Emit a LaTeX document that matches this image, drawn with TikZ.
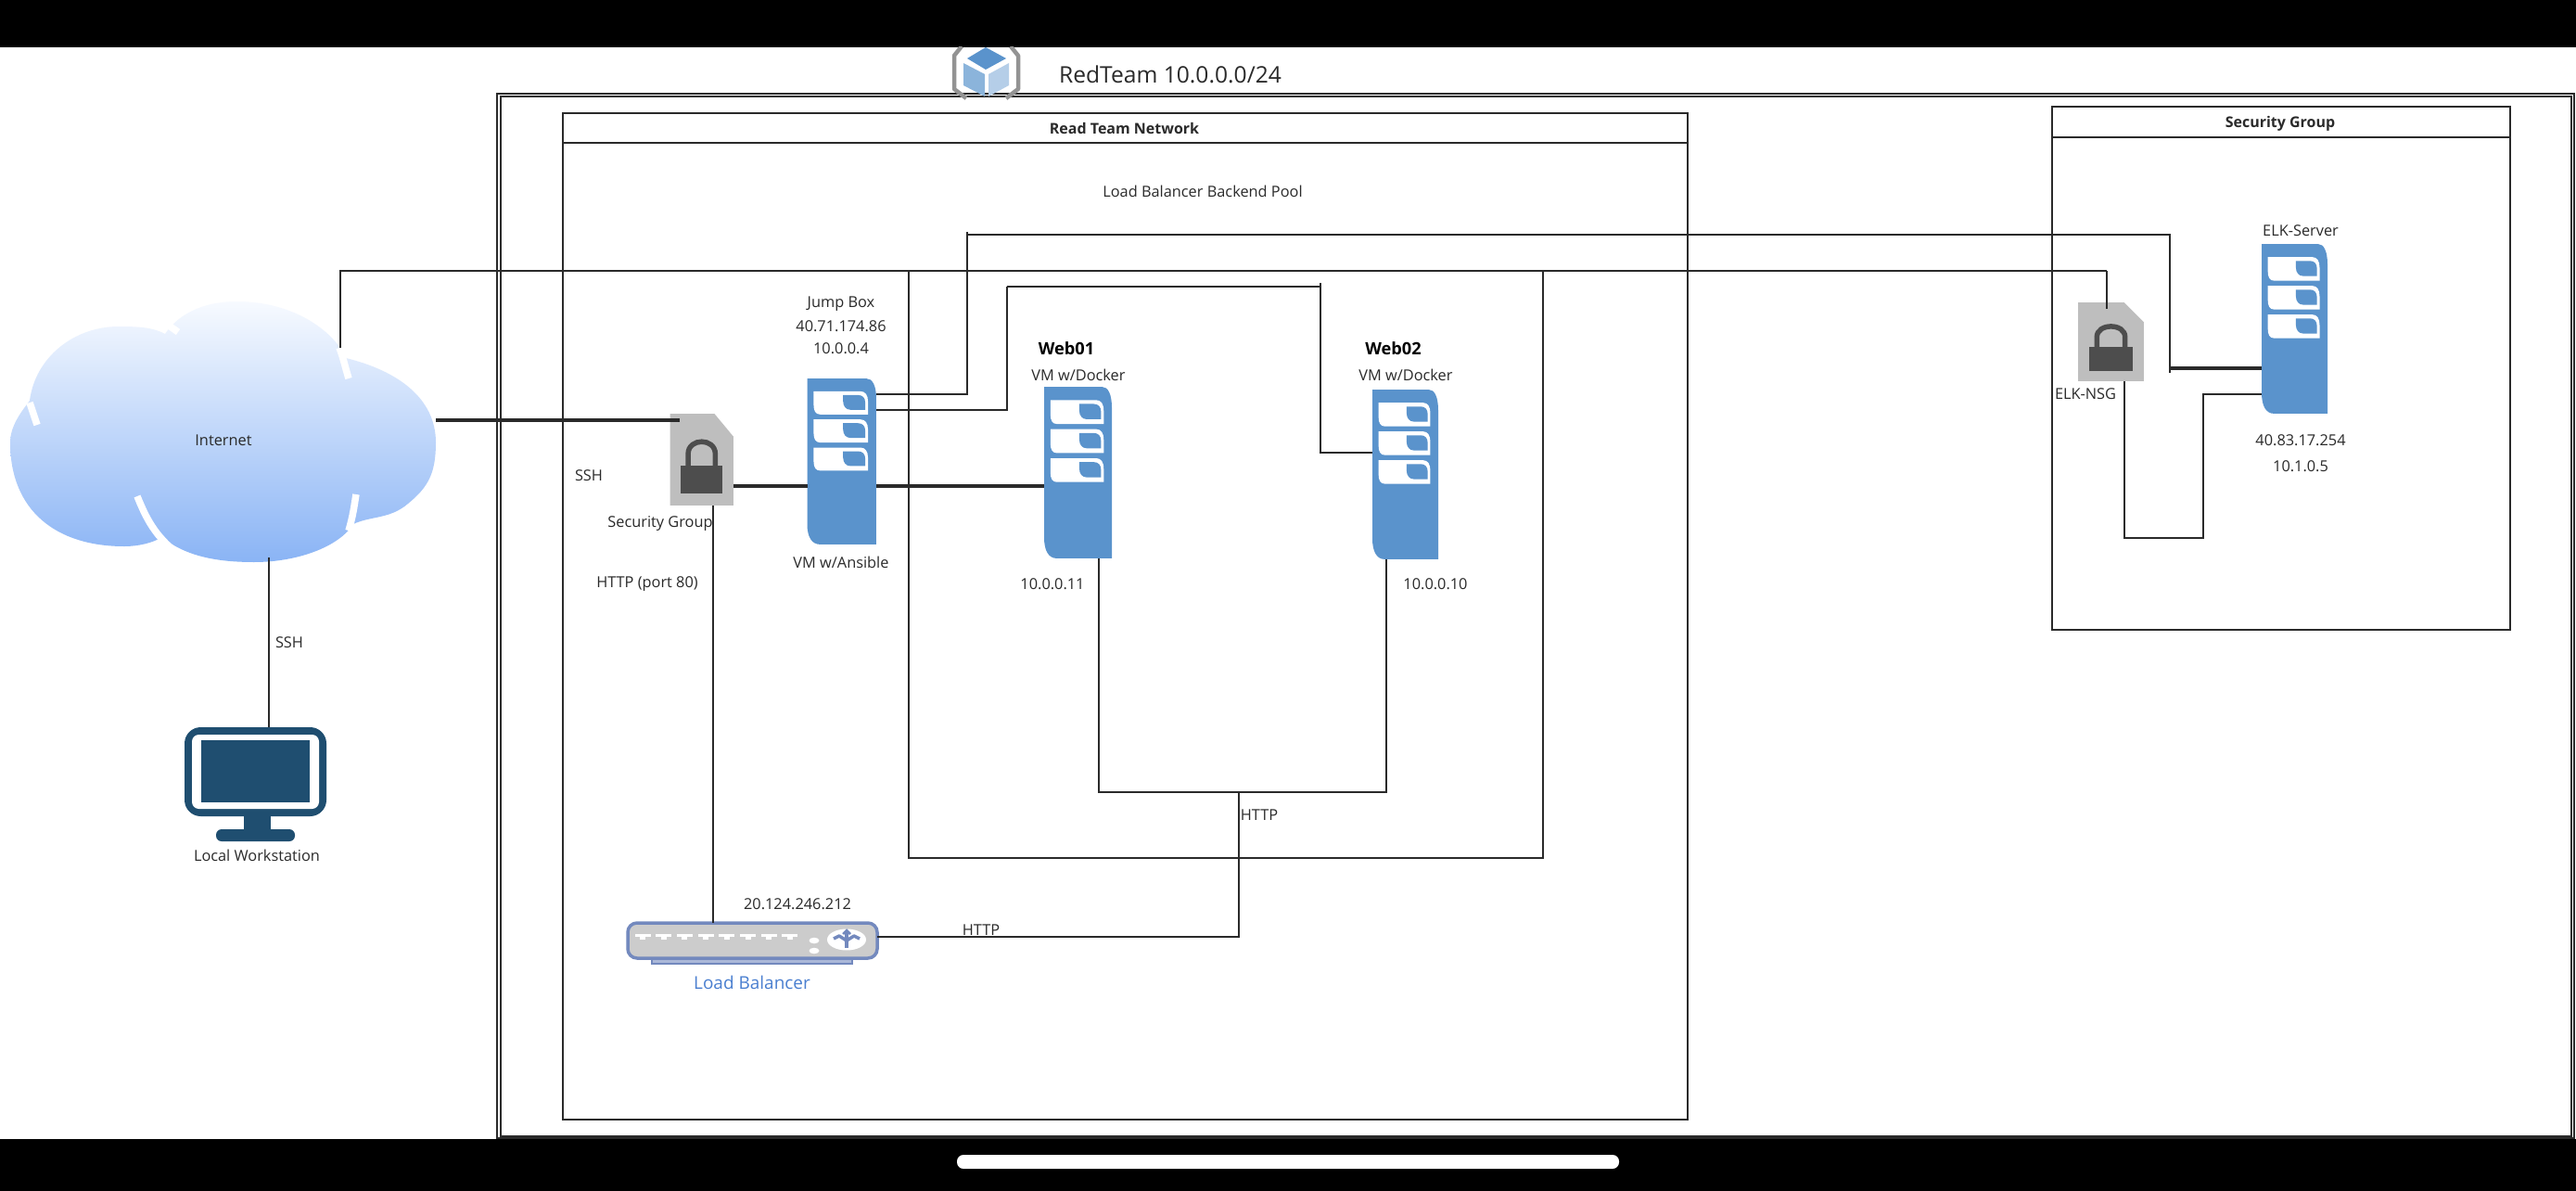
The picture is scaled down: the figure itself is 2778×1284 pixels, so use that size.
\documentclass[tikz,border=0pt]{standalone}
\usepackage{fontspec}
\setmainfont{Open Sans}
\definecolor{srvblue}{HTML}{5A93CC}
\definecolor{docgray}{HTML}{BEBEBE}
\definecolor{lockdark}{HTML}{4D4D4D}
\definecolor{monblue}{HTML}{1F4E70}
\definecolor{lbfill}{HTML}{CCCCCC}
\definecolor{lbedge}{HTML}{7389BE}
\definecolor{lbtext}{HTML}{4A7FD0}
\definecolor{linegray}{HTML}{2A2A2A}
\definecolor{cloudtopc}{HTML}{F7FAFF}
\definecolor{cloudmidc}{HTML}{C6DBFA}
\definecolor{cloudbotc}{HTML}{8AB4F5}
\newcommand\placearea[6]{%
  \pgfmathsetmacro\areaw{(#5-#3)*0.02}%
  \pgfmathsetmacro\areah{(#6-#4)*0.02}%
  \node[#1,anchor=north west,minimum width=\areaw cm,minimum height=\areah cm] (#2) at (#3,#4) {};}
\newcommand\serverIcon[5]{% name, x, y, w, h
  \placearea{holder}{#1}{#2}{#3}{#2+#4}{#3+#5}
  \pgfmathsetmacro\sx{#4*0.02/75}%
  \pgfmathsetmacro\sy{#5*0.02/180}%
  \begin{scope}[shift={(#2,#3)},x=\sx cm,y=-\sy cm]
    \fill[srvblue] (0,0) -- (64,0) .. controls (71,0) and (75,8) .. (75,22) -- (75,180) -- (14,180) .. controls (5,180) and (0,172) .. (0,158) -- cycle;
    \foreach \d in {0,30.5,61}{
      \fill[white] (7,14+\d) -- (58,14+\d) .. controls (63,14+\d) and (66,18+\d) .. (66,25+\d) -- (66,39+\d) -- (14,39+\d) .. controls (9,39+\d) and (7,35+\d) .. (7,29+\d) -- cycle;
      \fill[srvblue] (39,18+\d) -- (55,18+\d) .. controls (60,18+\d) and (63,21+\d) .. (63,26+\d) -- (63,34+\d) -- (47,34+\d) .. controls (42,34+\d) and (39,30+\d) .. (39,25+\d) -- cycle;
    }
  \end{scope}}
\newcommand\lockIcon[5]{% name, x, y, w, h
  \placearea{holder}{#1}{#2}{#3}{#2+#4}{#3+#5}
  \pgfmathsetmacro\sx{#4*0.02/70}%
  \pgfmathsetmacro\sy{#5*0.02/100}%
  \begin{scope}[shift={(#2,#3)},x=\sx cm,y=-\sy cm]
    \fill[docgray] (0,0) -- (49,0) -- (70,25) -- (70,100) -- (0,100) -- cycle;
    \draw[lockdark,line width=0.11cm] (20,58) -- (20,44) .. controls (20,26) and (50,26) .. (50,44) -- (50,58);
    \fill[lockdark] (12,57) rectangle (58,87);
  \end{scope}}
\tikzset{
  holder/.style={inner sep=0pt,outer sep=0pt,draw=none},
  frameline/.style={inner sep=0pt,outer sep=0pt,draw=linegray,line width=0.04cm},
  plainbox/.style={inner sep=0pt,outer sep=0pt,draw=linegray,line width=0.042cm},
  wire/.style={draw=linegray,line width=0.042cm,line join=miter},
  midwire/.style={draw=linegray,line width=0.058cm,line join=miter},
  thickwire/.style={draw=linegray,line width=0.085cm,line join=miter},
  lbl/.style={font=\fontsize{9.3}{11}\selectfont,inner sep=0pt,text=linegray},
  lblbold/.style={font=\fontsize{9.1}{11}\selectfont\bfseries,inner sep=0pt,text=linegray},
  webbold/.style={font=\fontsize{10.4}{12}\selectfont\bfseries,inner sep=0pt,text=black},
}
\begin{document}
\begin{tikzpicture}[x=0.02cm,y=-0.02cm]
\useasboundingbox (0,0) rectangle (2778,1284);
\fill[white] (0,0) rectangle (2778,1284);

% frames
\placearea{frameline}{frameouter}{536}{101}{2776}{1227}
\placearea{frameline}{frameinner}{540}{104}{2773}{1225}
\placearea{plainbox}{redbox}{607}{122}{1820}{1207}
\placearea{plainbox}{redhead}{607}{122}{1820}{154}
\placearea{plainbox}{secbox}{2213}{115}{2707}{679}
\placearea{plainbox}{sechead}{2213}{115}{2707}{148}
\placearea{plainbox}{pool}{980}{292}{1664}{925}

% black bars
\fill[black] (0,0) rectangle (2778,51);
\fill[black] (0,1228) rectangle (2778,1284);
\fill[white,rounded corners=0.14cm] (1032,1245) rectangle (1746,1260);

% title icon
\begin{scope}
  \clip (1000,51) rectangle (1120,110);
  \draw[gray!85,line width=0.09cm,line join=round] (1037,50) -- (1029,60) -- (1029,96) -- (1042,106);
  \draw[gray!85,line width=0.09cm,line join=round] (1090,50) -- (1098,60) -- (1098,96) -- (1085,106);
  \fill[srvblue] (1063,51) -- (1085,63) -- (1063,75) -- (1043,63) -- cycle;
  \fill[srvblue!70!white] (1039,68) -- (1062,80) -- (1062,104) -- (1039,92) -- cycle;
  \fill[srvblue!45!white] (1066,80) -- (1088,68) -- (1088,92) -- (1066,104) -- cycle;
\end{scope}
\node[font=\fontsize{14}{16}\selectfont,inner sep=0pt,text=linegray] (title) at (1262,80) {RedTeam 10.0.0.0/24};
\node[lblbold] (redtitle) at (1212.5,139) {Read Team Network};
\node[lblbold] (sectitle) at (2459,133) {Security Group};
\node[lbl] (pooltitle) at (1297,206) {Load Balancer Backend Pool};

% cloud
\placearea{holder}{cloud}{11}{325}{470}{606}
\shade[top color=cloudtopc,middle color=cloudmidc,bottom color=cloudbotc]
  (134,589) .. controls (60,589) and (11,550) .. (11,477)
  .. controls (11,460) and (22,445) .. (32,432)
  .. controls (38,385) and (80,352) .. (128,352)
  .. controls (150,352) and (165,353) .. (178,360)
  .. controls (195,335) and (225,325) .. (255,325)
  .. controls (320,325) and (362,360) .. (373,386)
  .. controls (430,400) and (470,430) .. (470,477)
  .. controls (470,510) and (462,525) .. (440,543)
  .. controls (420,560) and (400,556) .. (381,565)
  .. controls (365,590) and (320,606) .. (274,606)
  .. controls (235,606) and (200,600) .. (175,579)
  .. controls (165,585) and (150,589) .. (134,589) -- cycle;
\begin{scope}[white,line width=0.15cm]
  \draw (178,348) -- (192,358);
  \draw (32,434) -- (40,458);
  \draw (366,375) .. controls (370,385) and (372,395) .. (376,408);
  \draw (148,535) .. controls (160,565) and (170,580) .. (195,600);
  \draw (384,533) .. controls (382,545) and (381,555) .. (376,572);
\end{scope}
\node[lbl] (internet) at (241,475) {Internet};

% workstation
\placearea{holder}{monitor}{199}{784}{352}{907}
\fill[monblue,rounded corners=0.35cm] (199,784) rectangle (352,880);
\fill[white,rounded corners=0.15cm] (207,792) rectangle (344,872);
\fill[monblue] (217,798) rectangle (334,865);
\fill[monblue] (262.5,878) rectangle (292,896);
\fill[monblue,rounded corners=0.12cm] (233,894) rectangle (318,907);
\node[lbl] (localws) at (277,922) {Local Workstation};
\node[lbl] (sshwire) at (312,693) {SSH};

% icons
\serverIcon{jump}{870.5}{408}{74.5}{179}
\serverIcon{webone}{1126}{417}{73}{185}
\serverIcon{webtwo}{1480}{420}{71}{183}
\serverIcon{elk}{2439}{263}{71}{183}
\lockIcon{sg}{722.5}{446}{68.5}{99}
\lockIcon{nsg}{2241}{326}{71}{85}

% load balancer
\placearea{holder}{lb}{677}{995}{946}{1033}
\fill[lbedge!60!white,draw=lbedge,line width=0.04cm] (703,1030) rectangle (919,1039);
\draw[fill=lbfill,draw=lbedge,line width=0.07cm,rounded corners=0.2cm] (677,995) rectangle (946,1033);
\foreach \n in {0,...,7}{
  \pgfmathsetmacro\px{693+22.7*\n}
  \fill[white] (\px-8.5,1007) rectangle (\px+8.5,1010);
  \fill[white] (\px-3,1010) rectangle (\px+3,1012.5);
}
\fill[white] (878,1014) ellipse [x radius=0.11cm,y radius=0.065cm];
\fill[white] (878,1025) ellipse [x radius=0.11cm,y radius=0.065cm];
\fill[white] (913,1013) ellipse [x radius=0.42cm,y radius=0.23cm];
\draw[lbedge,line width=0.07cm,line join=round] (899,1012) -- (905,1009) -- (913,1014) -- (921,1009) -- (927,1012);
\draw[lbedge,line width=0.07cm] (913,1004) -- (913,1022);
\draw[lbedge,line width=0.05cm] (909,1007) -- (913,1003) -- (917,1007);
\node[font=\fontsize{10.8}{13}\selectfont,inner sep=0pt,text=lbtext] (lbtitle) at (811,1059) {Load Balancer};

% connectors
\coordinate (cloudtop) at (367,375);
\coordinate (cloudbot) at (290,601);
\draw[wire] (cloudtop) -- (367,292) -- (2272,292);
\draw[midwire] (2272,292) -- (2272,333);
\draw[thickwire] (cloud.east |- 0,453) -- (733,453);
\draw[midwire] (cloudbot) -- (monitor.north -| cloudbot);
\draw[thickwire] (sg.east |- 0,524) -- (jump.west |- 0,524);
\draw[thickwire] (jump.east |- 0,524) -- (webone.west |- 0,524);
\draw[midwire] (sg.south -| 769,0) -- (lb.north -| 769,0);
\draw[wire] (jump.east |- 0,425) -- (1043,425) -- (1043,250);
\draw[wire] (1043,253) -- (2340,253) -- (2340,402);
\draw[thickwire] (2340,397) -- (elk.west |- 0,397);
\draw[wire] (jump.east |- 0,442) -- (1086,442) -- (1086,309);
\draw[midwire] (1086,309) -- (1424,309);
\draw[wire] (1424,305) -- (1424,488) -- (webtwo.west |- 0,488);
\draw[wire] (webone.south -| 1185,0) -- (1185,854) -- (1495,854) -- (webtwo.south -| 1495,0);
\draw[wire] (1336,854) -- (1336,1010) -- (lb.east |- 0,1010);
\draw[wire] (nsg.south -| 2291,0) -- (2291,580) -- (2376,580) -- (2376,425) -- (elk.west |- 0,425);

% labels
\node[lbl] (ssh) at (635,513) {SSH};
\node[lbl] (sglabel) at (712,564) {Security Group};
\node[lbl] (httpport) at (698,630) {HTTP (port 80)};
\node[lbl] (jumpname) at (907,328) {Jump Box};
\node[lbl] (jumpip) at (907,352) {40.71.174.86};
\node[lbl] (jumppriv) at (907,376) {10.0.0.4};
\node[lbl] (jumprole) at (907,606) {VM w/Ansible};
\node[webbold] (weboneL) at (1150,376) {Web01};
\node[webbold] (webtwoL) at (1502.5,376) {Web02};
\node[lbl] (weboneR) at (1163,404) {VM w/Docker};
\node[lbl] (webtwoR) at (1516,404) {VM w/Docker};
\node[lbl] (weboneIP) at (1135,630) {10.0.0.11};
\node[lbl] (webtwoIP) at (1548,630) {10.0.0.10};
\node[lbl] (httpup) at (1358,879) {HTTP};
\node[lbl] (httplow) at (1058,1003) {HTTP};
\node[lbl] (lbip) at (860,975) {20.124.246.212};
\node[lbl] (elkname) at (2481,249) {ELK-Server};
\node[lbl] (elkip) at (2481,475) {40.83.17.254};
\node[lbl] (elkpriv) at (2481,503) {10.1.0.5};
\node[lbl] (nsglabel) at (2249,425) {ELK-NSG};
\end{tikzpicture}
\end{document}
